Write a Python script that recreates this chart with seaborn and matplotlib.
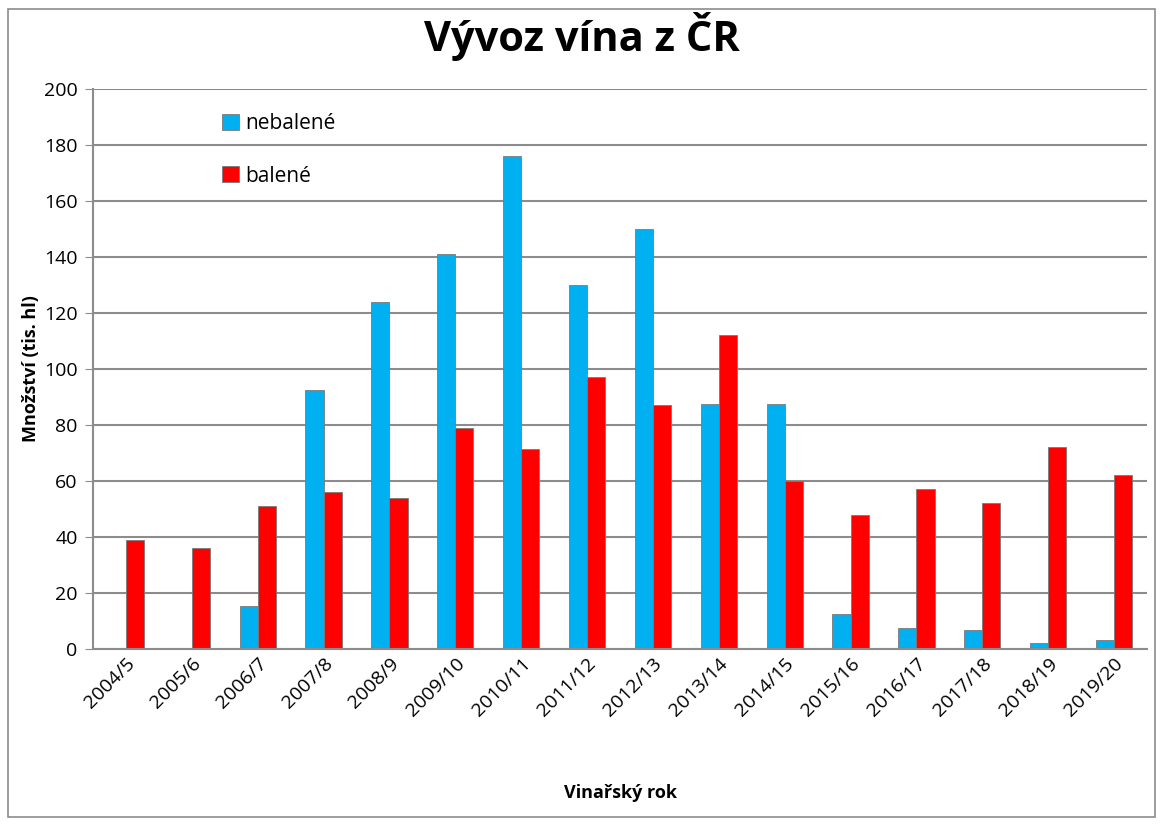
import pandas as pd
import matplotlib.pyplot as plt
import seaborn as sns
from matplotlib.patches import Rectangle

# Data
years = ['2004/5', '2005/6', '2006/7', '2007/8', '2008/9', '2009/10', '2010/11', '2011/12',
         '2012/13', '2013/14', '2014/15', '2015/16', '2016/17', '2017/18', '2018/19', '2019/20']
nebalene = [0, 0.3, 15.5, 92.5, 124, 141, 176, 130, 150, 87.5, 87.5, 12.5, 7.5, 6.8, 2, 3.2]
balene = [39, 36, 51, 56, 54, 79, 71.5, 97, 87, 112, 60, 48, 57, 52, 72, 62]
series = ['nebalené', 'balené']
colors = ['#00B0F0', '#FF0000']

df = pd.DataFrame({
    'rok': years * 2,
    'druh': [series[0]] * len(years) + [series[1]] * len(years),
    'hodnota': nebalene + balene,
})

sns.set_style('white')
plt.rcParams['font.family'] = ['Open Sans', 'DejaVu Sans']
plt.rcParams['text.color'] = 'black'
plt.rcParams['axes.labelcolor'] = 'black'
plt.rcParams['xtick.color'] = 'black'
plt.rcParams['ytick.color'] = 'black'

fig = plt.figure(figsize=(11.63, 8.25), dpi=100)
ax = fig.add_axes([93 / 1163, 1 - 649 / 825, (1147 - 93) / 1163, (649 - 89) / 825])

sns.barplot(data=df, x='rok', y='hodnota', hue='druh', palette=colors, width=0.55,
            gap=0, saturation=1, edgecolor='#7a7a7a', linewidth=0.6, ax=ax)

ax.set_ylim(0, 200)
ax.set_yticks(range(0, 201, 20))
ax.yaxis.grid(True, color='#8c8c8c', linewidth=1.5)
ax.set_axisbelow(True)
for s in ['top', 'right']:
    ax.spines[s].set_visible(False)
ax.spines['left'].set_color('#8c8c8c')
ax.spines['bottom'].set_color('#8c8c8c')
ax.spines['left'].set_linewidth(1.5)
ax.spines['bottom'].set_linewidth(1.5)
ax.tick_params(axis='y', length=6, color='#8c8c8c', labelsize=14, left=True, direction='out', pad=5)
ax.tick_params(axis='x', length=0, labelsize=14, pad=4)
plt.setp(ax.get_xticklabels(), rotation=45, ha='right', rotation_mode='anchor')

ax.set_xlabel('Vinařský rok', fontsize=13, fontweight='bold', labelpad=46)
ax.set_ylabel('Množství (tis. hl)', fontsize=13, fontweight='bold', labelpad=-2)
ax.yaxis.set_label_coords(-53 / 1054, 0.5)
fig.suptitle('Vývoz vína z ČR', fontsize=30, fontweight='bold', y=0.985)

leg = ax.legend(loc='upper left', bbox_to_anchor=(0.105, 0.99), frameon=False, fontsize=15,
                handlelength=0.8, handleheight=0.8, handletextpad=0.3, labelspacing=1.5)

fig.patches.append(Rectangle((8 / 1163, 8 / 825), 1147 / 1163, 808 / 825, transform=fig.transFigure,
                             fill=False, edgecolor='#8c8c8c', linewidth=1.2))

fig.savefig('out.png', dpi=100)
